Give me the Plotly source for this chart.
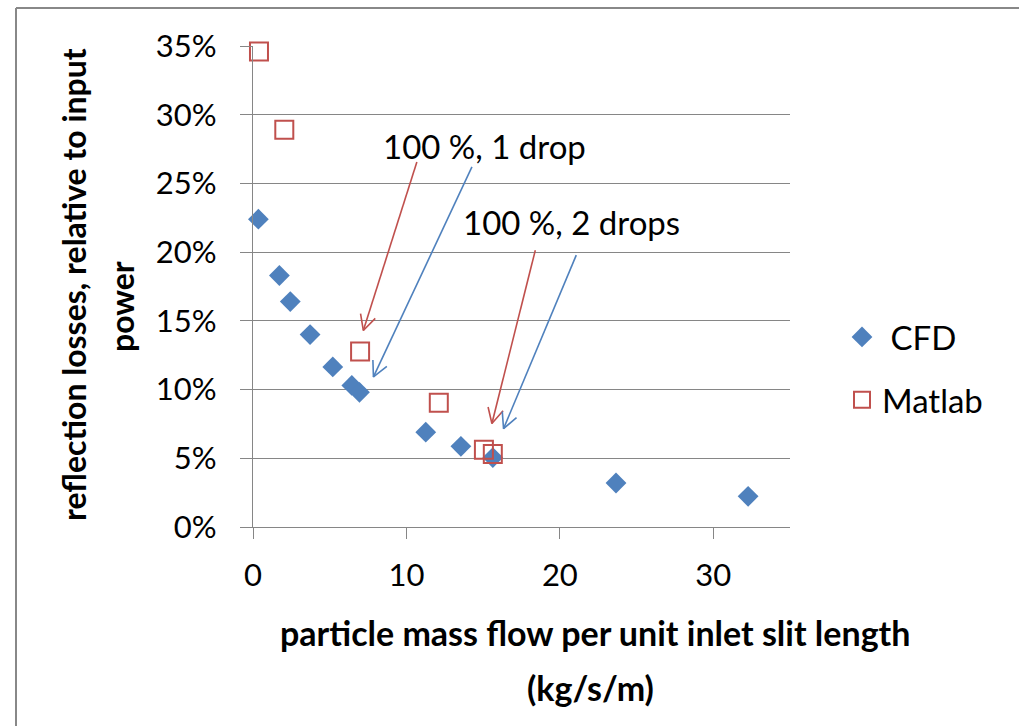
import math
import plotly.graph_objects as go

# ---- data ----
cfd_x = [0.35, 1.72, 2.43, 3.72, 5.2, 6.44, 6.94, 11.26, 13.55, 15.63, 23.66, 32.27]
cfd_y = [0.224, 0.183, 0.164, 0.140, 0.1165, 0.103, 0.098, 0.069, 0.0587, 0.0505, 0.032, 0.0223]
matlab_x = [0.39, 2.04, 6.98, 12.11, 15.05, 15.63]
matlab_y = [0.346, 0.289, 0.1277, 0.0905, 0.0563, 0.0531]

label_texts = ["100 %, 1 drop", "100 %, 2 drops"]
label_x = [15.07, 20.74]
label_y = [0.277, 0.222]

arrow_tail_x = [10.68, 14.27, 18.4, 21.07]
arrow_tail_y = [0.2656, 0.262, 0.2014, 0.1978]
arrow_tip_x = [7.19, 7.85, 15.57, 16.33]
arrow_tip_y = [0.143, 0.1092, 0.0753, 0.0716]
arrow_colors = ["#C0504D", "#4F81BD", "#C0504D", "#4F81BD"]

x_range = [0, 35]
y_range = [0, 0.35]

# ---- layout geometry ----
W, H = 1019, 726
L, R, T, B = 253, 229, 46, 199
PW = W - L - R
PH = H - T - B
sx = PW / (x_range[1] - x_range[0])
sy = PH / (y_range[1] - y_range[0])

FONT = "Lato, Carlito, Calibri, sans-serif"
GRID = "#868686"

fig = go.Figure()

fig.add_trace(go.Scatter(
    x=cfd_x, y=cfd_y, mode="markers", name=" CFD",
    marker=dict(symbol="diamond", size=16, color="#4F81BD", line=dict(width=0)),
    legendgroup="a", cliponaxis=False,
))
fig.add_trace(go.Scatter(
    x=matlab_x, y=matlab_y, mode="markers", name="Matlab",
    marker=dict(symbol="square-open", size=18, color="#C0504D", line=dict(width=2, color="#C0504D")),
    legendgroup="b", cliponaxis=False,
))

# arrows (line + open V head) built from tail/tip values
head_len = 17
head_ang = math.radians(27)
for xs, ys, xt, yt, c in zip(arrow_tail_x, arrow_tail_y, arrow_tip_x, arrow_tip_y, arrow_colors):
    dx = (xs - xt) * sx
    dy = (ys - yt) * sy
    n = math.hypot(dx, dy)
    ux, uy = dx / n, dy / n
    arms = []
    for s in (1, -1):
        ca, sa = math.cos(s * head_ang), math.sin(s * head_ang)
        rx = ux * ca - uy * sa
        ry = ux * sa + uy * ca
        arms.append((xt + rx * head_len / sx, yt + ry * head_len / sy))
    xs_line = [xs, xt, None, arms[0][0], xt, arms[1][0]]
    ys_line = [ys, yt, None, arms[0][1], yt, arms[1][1]]
    fig.add_trace(go.Scatter(x=xs_line, y=ys_line, mode="lines",
                             line=dict(color=c, width=1.6), showlegend=False,
                             hoverinfo="skip"))

for t, x, y in zip(label_texts, label_x, label_y):
    fig.add_annotation(x=x, y=y, xref="x", yref="y", text=t, showarrow=False,
                       xanchor="center", yanchor="middle",
                       font=dict(family=FONT, size=33, color="black"))

# axis titles as annotations
def paper_x(px):
    return (px - L) / PW

def paper_y(py):
    return (H - B - py) / PH

fig.add_annotation(x=paper_x(595), y=paper_y(632), xref="paper", yref="paper",
                   text="<b>particle mass flow per unit inlet slit length</b>", showarrow=False,
                   xanchor="center", yanchor="middle",
                   font=dict(family=FONT, size=34, color="black"))
fig.add_annotation(x=paper_x(590), y=paper_y(687), xref="paper", yref="paper",
                   text="<b>(kg/s/m)</b>", showarrow=False,
                   xanchor="center", yanchor="middle",
                   font=dict(family=FONT, size=34, color="black"))
fig.add_annotation(x=paper_x(73), y=paper_y(285), xref="paper", yref="paper",
                   text="<b>reflection losses, relative to input</b>", showarrow=False, textangle=-90,
                   xanchor="center", yanchor="middle",
                   font=dict(family=FONT, size=32, color="black"))
fig.add_annotation(x=paper_x(121), y=paper_y(307), xref="paper", yref="paper",
                   text="<b>power</b>", showarrow=False, textangle=-90,
                   xanchor="center", yanchor="middle",
                   font=dict(family=FONT, size=32, color="black"))

# chart-area border (top and left edges visible)
bx = paper_x(16)
by = paper_y(8)
fig.add_shape(type="line", xref="paper", yref="paper", x0=bx, x1=bx, y0=-1, y1=by,
              line=dict(color="#888888", width=2))
fig.add_shape(type="line", xref="paper", yref="paper", x0=bx, x1=3, y0=by, y1=by,
              line=dict(color="#888888", width=2))

fig.update_layout(
    width=W, height=H,
    margin=dict(l=L, r=R, t=T, b=B, pad=0),
    paper_bgcolor="white", plot_bgcolor="white",
    font=dict(family=FONT, size=31, color="black"),
    showlegend=True,
    legend=dict(x=paper_x(842), y=paper_y(309), xanchor="left", yanchor="top",
                font=dict(family=FONT, size=33, color="black"),
                bgcolor="rgba(0,0,0,0)", tracegroupgap=17, traceorder="grouped",
                itemsizing="trace"),
    xaxis=dict(range=x_range, dtick=10, tick0=0, showgrid=False, zeroline=False,
               showline=True, linecolor=GRID, linewidth=1.3,
               ticks="outside", ticklen=11, tickcolor=GRID, tickwidth=1.3,
               ticklabelstandoff=10,
               tickfont=dict(family=FONT, size=31, color="black")),
    yaxis=dict(range=y_range, dtick=0.05, tick0=0, tickformat=".0%",
               showgrid=True, gridcolor=GRID, gridwidth=1.3, zeroline=False,
               showline=True, linecolor=GRID, linewidth=1.3,
               ticks="outside", ticklen=12, tickcolor=GRID, tickwidth=1.3,
               ticklabelstandoff=17,
               tickfont=dict(family=FONT, size=31, color="black")),
)

fig.write_html("out.html")
